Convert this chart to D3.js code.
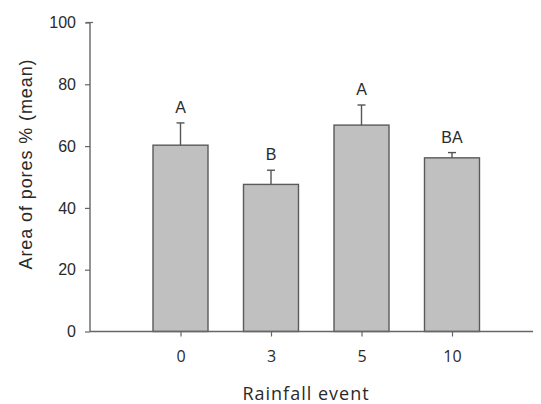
<!DOCTYPE html>
<html>
<head>
<meta charset="utf-8">
<script src="https://cdn.jsdelivr.net/npm/d3@7"></script>
<style>
  body { margin: 0; background: #fff; }
  svg { display: block; }
</style>
</head>
<body>
<div id="chart"></div>
<script>
const categories = ["0", "3", "5", "10"];
const means = [60.3, 47.6, 66.8, 56.2];
const errors = [7.2, 4.6, 6.5, 1.7];
const letters = ["A", "B", "A", "BA"];
const yTicks = [0, 20, 40, 60, 80, 100];

const width = 541, height = 404;
let svg = d3.select("#chart").append("svg")
  .attr("width", width)
  .attr("height", height);

// y scale: 0 at baseline, 100 at top tick
const y = d3.scaleLinear().domain([0, 100]).range([331.5, 22.5]);
// bar centres sit on evenly spaced ticks
const x = d3.scalePoint().domain(categories).range([180.5, 452]);
const barW = 55;
const axisColor = "#666";

// bars
svg.selectAll("rect.bar")
  .data(categories)
  .enter().append("rect")
  .attr("class", "bar")
  .attr("x", d => x(d) - barW / 2)
  .attr("y", (d, i) => y(means[i]))
  .attr("width", barW)
  .attr("height", (d, i) => y(0) - y(means[i]))
  .attr("fill", "#c0c0c0")
  .attr("stroke", "#5a5a5a")
  .style("stroke-width", "1.4px");

// error bars (upper only)
svg.selectAll("line.err")
  .data(categories)
  .enter().append("line")
  .attr("class", "err")
  .attr("x1", d => x(d)).attr("x2", d => x(d))
  .attr("y1", (d, i) => y(means[i]))
  .attr("y2", (d, i) => y(means[i] + errors[i]))
  .attr("stroke", "#555")
  .style("stroke-width", "1.4px");

svg.selectAll("line.cap")
  .data(categories)
  .enter().append("line")
  .attr("class", "cap")
  .attr("x1", d => x(d) - 4).attr("x2", d => x(d) + 4)
  .attr("y1", (d, i) => y(means[i] + errors[i]))
  .attr("y2", (d, i) => y(means[i] + errors[i]))
  .attr("stroke", "#555")
  .style("stroke-width", "1.4px");

// significance letters
svg.selectAll("text.letter")
  .data(categories)
  .enter().append("text")
  .attr("class", "letter")
  .attr("x", d => x(d))
  .attr("y", (d, i) => y(means[i] + errors[i]) - 10)
  .attr("text-anchor", "middle")
  .style("font-family", "Liberation Sans, Arial, sans-serif")
  .style("font-size", "16px")
  .attr("fill", "#2a2a2a")
  .text((d, i) => letters[i]);

// y axis
const yAxis = svg.append("g")
  .attr("transform", "translate(90,0)")
  .call(d3.axisLeft(y).tickValues(yTicks).tickSize(5).tickPadding(9));
yAxis.select(".domain").attr("stroke", axisColor).style("stroke-width", "1.4px")
  .attr("d", "M0," + y(100) + "V" + y(0));
yAxis.selectAll(".tick line").attr("stroke", axisColor).style("stroke-width", "1.2px");
yAxis.selectAll(".tick text")
  .style("font-family", "Liberation Sans, Arial, sans-serif")
  .style("font-size", "16px")
  .attr("fill", "#2a2a2a");
// small cap on the top of the axis
yAxis.append("line")
  .attr("x1", -4).attr("x2", 3)
  .attr("y1", y(100)).attr("y2", y(100))
  .attr("stroke", axisColor).style("stroke-width", "1.2px");

// x axis
svg.append("line")
  .attr("x1", 90).attr("x2", 533)
  .attr("y1", y(0)).attr("y2", y(0))
  .attr("stroke", axisColor)
  .style("stroke-width", "1.4px");
const xAxis = svg.append("g")
  .attr("transform", "translate(0," + y(0) + ")")
  .call(d3.axisBottom(x).tickSize(5).tickPadding(14));
xAxis.select(".domain").remove();
xAxis.selectAll(".tick line").attr("stroke", axisColor).style("stroke-width", "1.2px");
xAxis.selectAll(".tick text")
  .style("font-family", "Open Sans, sans-serif")
  .style("font-size", "16px")
  .attr("fill", "#2a2a2a");

// axis titles
svg.append("text")
  .attr("x", 306)
  .attr("y", 400)
  .attr("text-anchor", "middle")
  .style("font-family", "Open Sans, sans-serif")
  .style("font-size", "18px")
  .style("letter-spacing", "1px")
  .attr("fill", "#2a2a2a")
  .text("Rainfall event");

svg.append("text")
  .attr("transform", "translate(32,164) rotate(-90)")
  .attr("text-anchor", "middle")
  .style("font-family", "Liberation Sans, Arial, sans-serif")
  .style("font-size", "18px")
  .style("letter-spacing", "0.9px")
  .attr("fill", "#2a2a2a")
  .text("Area of pores % (mean)");
</script>
</body>
</html>
